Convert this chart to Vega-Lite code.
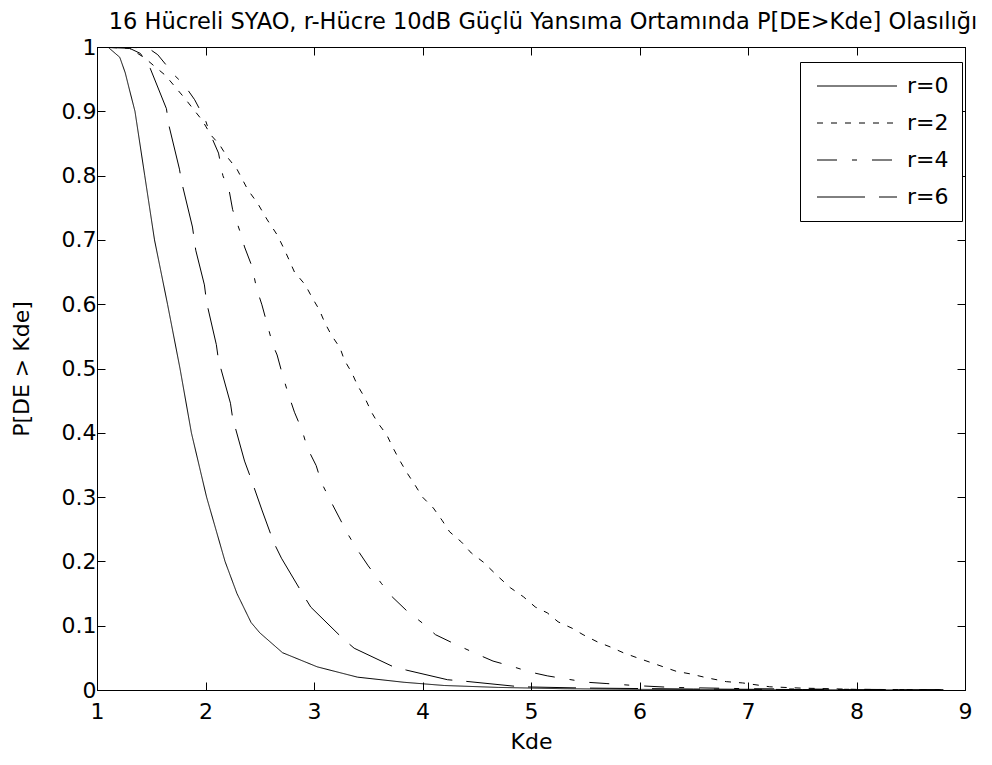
{
  "$schema": "https://vega.github.io/schema/vega-lite/v6.json",
  "width": 868,
  "height": 643,
  "autosize": "none",
  "padding": {"left": 97, "top": 47, "right": 27, "bottom": 75},
  "background": "white",
  "title": {"text": "16 Hücreli SYAO, r-Hücre 10dB Güçlü Yansıma Ortamında P[DE>Kde] Olasılığı", "fontSize": 22.5, "fontWeight": "normal", "font": "DejaVu Sans", "anchor": "middle", "offset": 3, "dx": 12, "color": "black"},
  "data": {"values": [
    {"k":1,"p":1,"r":"r=0"},{"k":1.1,"p":1.0,"r":"r=0"},{"k":1.21,"p":0.984,"r":"r=0"},{"k":1.26,"p":0.96,"r":"r=0"},{"k":1.3,"p":0.933,"r":"r=0"},{"k":1.35,"p":0.9,"r":"r=0"},{"k":1.44,"p":0.8,"r":"r=0"},{"k":1.53,"p":0.7,"r":"r=0"},{"k":1.65,"p":0.6,"r":"r=0"},{"k":1.765,"p":0.5,"r":"r=0"},{"k":1.87,"p":0.4,"r":"r=0"},{"k":2.01,"p":0.3,"r":"r=0"},{"k":2.18,"p":0.2,"r":"r=0"},{"k":2.29,"p":0.15,"r":"r=0"},{"k":2.42,"p":0.105,"r":"r=0"},{"k":2.5,"p":0.089,"r":"r=0"},{"k":2.71,"p":0.058,"r":"r=0"},{"k":3.03,"p":0.036,"r":"r=0"},{"k":3.4,"p":0.02,"r":"r=0"},{"k":3.83,"p":0.012,"r":"r=0"},{"k":4.2,"p":0.007,"r":"r=0"},{"k":4.7,"p":0.004,"r":"r=0"},{"k":5.3,"p":0.002,"r":"r=0"},{"k":6,"p":0.001,"r":"r=0"},{"k":7,"p":0.0005,"r":"r=0"},{"k":8,"p":0.0002,"r":"r=0"},{"k":8.8,"p":0.0001,"r":"r=0"},
    {"k":1,"p":1,"r":"r=2"},{"k":1.3,"p":0.998,"r":"r=2"},{"k":1.44,"p":0.983,"r":"r=2"},{"k":1.53,"p":0.97,"r":"r=2"},{"k":1.63,"p":0.956,"r":"r=2"},{"k":1.72,"p":0.938,"r":"r=2"},{"k":1.81,"p":0.92,"r":"r=2"},{"k":1.88,"p":0.905,"r":"r=2"},{"k":1.97,"p":0.886,"r":"r=2"},{"k":2.05,"p":0.863,"r":"r=2"},{"k":2.13,"p":0.848,"r":"r=2"},{"k":2.2,"p":0.829,"r":"r=2"},{"k":2.29,"p":0.81,"r":"r=2"},{"k":2.39,"p":0.778,"r":"r=2"},{"k":2.48,"p":0.757,"r":"r=2"},{"k":2.57,"p":0.731,"r":"r=2"},{"k":2.66,"p":0.708,"r":"r=2"},{"k":2.73,"p":0.684,"r":"r=2"},{"k":2.82,"p":0.65,"r":"r=2"},{"k":2.92,"p":0.63,"r":"r=2"},{"k":2.98,"p":0.611,"r":"r=2"},{"k":3.05,"p":0.591,"r":"r=2"},{"k":3.1,"p":0.571,"r":"r=2"},{"k":3.16,"p":0.552,"r":"r=2"},{"k":3.24,"p":0.532,"r":"r=2"},{"k":3.28,"p":0.513,"r":"r=2"},{"k":3.35,"p":0.493,"r":"r=2"},{"k":3.4,"p":0.474,"r":"r=2"},{"k":3.47,"p":0.454,"r":"r=2"},{"k":3.53,"p":0.432,"r":"r=2"},{"k":3.59,"p":0.415,"r":"r=2"},{"k":3.67,"p":0.397,"r":"r=2"},{"k":3.73,"p":0.376,"r":"r=2"},{"k":3.79,"p":0.357,"r":"r=2"},{"k":3.86,"p":0.337,"r":"r=2"},{"k":3.93,"p":0.319,"r":"r=2"},{"k":4.0,"p":0.3,"r":"r=2"},{"k":4.1,"p":0.283,"r":"r=2"},{"k":4.18,"p":0.264,"r":"r=2"},{"k":4.25,"p":0.246,"r":"r=2"},{"k":4.36,"p":0.23,"r":"r=2"},{"k":4.45,"p":0.213,"r":"r=2"},{"k":4.56,"p":0.199,"r":"r=2"},{"k":4.7,"p":0.176,"r":"r=2"},{"k":4.81,"p":0.159,"r":"r=2"},{"k":4.93,"p":0.145,"r":"r=2"},{"k":5.04,"p":0.129,"r":"r=2"},{"k":5.15,"p":0.12,"r":"r=2"},{"k":5.25,"p":0.106,"r":"r=2"},{"k":5.38,"p":0.096,"r":"r=2"},{"k":5.48,"p":0.086,"r":"r=2"},{"k":5.61,"p":0.075,"r":"r=2"},{"k":5.73,"p":0.067,"r":"r=2"},{"k":5.85,"p":0.058,"r":"r=2"},{"k":5.98,"p":0.05,"r":"r=2"},{"k":6.1,"p":0.043,"r":"r=2"},{"k":6.22,"p":0.036,"r":"r=2"},{"k":6.34,"p":0.029,"r":"r=2"},{"k":6.47,"p":0.025,"r":"r=2"},{"k":6.62,"p":0.019,"r":"r=2"},{"k":6.8,"p":0.013,"r":"r=2"},{"k":6.95,"p":0.011,"r":"r=2"},{"k":7.2,"p":0.005,"r":"r=2"},{"k":7.48,"p":0.003,"r":"r=2"},{"k":8.0,"p":0.001,"r":"r=2"},{"k":8.8,"p":0.0003,"r":"r=2"},
    {"k":1,"p":1,"r":"r=4"},{"k":1.4,"p":0.999,"r":"r=4"},{"k":1.5,"p":0.995,"r":"r=4"},{"k":1.56,"p":0.988,"r":"r=4"},{"k":1.72,"p":0.955,"r":"r=4"},{"k":1.8,"p":0.942,"r":"r=4"},{"k":1.9,"p":0.918,"r":"r=4"},{"k":2.0,"p":0.886,"r":"r=4"},{"k":2.04,"p":0.866,"r":"r=4"},{"k":2.12,"p":0.835,"r":"r=4"},{"k":2.16,"p":0.8,"r":"r=4"},{"k":2.22,"p":0.775,"r":"r=4"},{"k":2.25,"p":0.747,"r":"r=4"},{"k":2.32,"p":0.712,"r":"r=4"},{"k":2.36,"p":0.689,"r":"r=4"},{"k":2.43,"p":0.658,"r":"r=4"},{"k":2.47,"p":0.625,"r":"r=4"},{"k":2.52,"p":0.599,"r":"r=4"},{"k":2.57,"p":0.568,"r":"r=4"},{"k":2.62,"p":0.537,"r":"r=4"},{"k":2.66,"p":0.521,"r":"r=4"},{"k":2.71,"p":0.49,"r":"r=4"},{"k":2.76,"p":0.462,"r":"r=4"},{"k":2.82,"p":0.432,"r":"r=4"},{"k":2.89,"p":0.404,"r":"r=4"},{"k":2.94,"p":0.376,"r":"r=4"},{"k":3.02,"p":0.349,"r":"r=4"},{"k":3.07,"p":0.322,"r":"r=4"},{"k":3.15,"p":0.295,"r":"r=4"},{"k":3.23,"p":0.269,"r":"r=4"},{"k":3.31,"p":0.243,"r":"r=4"},{"k":3.4,"p":0.218,"r":"r=4"},{"k":3.5,"p":0.193,"r":"r=4"},{"k":3.62,"p":0.166,"r":"r=4"},{"k":3.72,"p":0.145,"r":"r=4"},{"k":3.85,"p":0.124,"r":"r=4"},{"k":4.0,"p":0.104,"r":"r=4"},{"k":4.12,"p":0.086,"r":"r=4"},{"k":4.28,"p":0.073,"r":"r=4"},{"k":4.5,"p":0.056,"r":"r=4"},{"k":4.65,"p":0.045,"r":"r=4"},{"k":4.82,"p":0.037,"r":"r=4"},{"k":4.99,"p":0.028,"r":"r=4"},{"k":5.15,"p":0.022,"r":"r=4"},{"k":5.33,"p":0.017,"r":"r=4"},{"k":5.52,"p":0.012,"r":"r=4"},{"k":5.7,"p":0.01,"r":"r=4"},{"k":5.95,"p":0.007,"r":"r=4"},{"k":6.3,"p":0.004,"r":"r=4"},{"k":7.0,"p":0.002,"r":"r=4"},{"k":8.0,"p":0.001,"r":"r=4"},{"k":8.8,"p":0.0003,"r":"r=4"},
    {"k":1,"p":1,"r":"r=6"},{"k":1.3,"p":0.998,"r":"r=6"},{"k":1.4,"p":0.99,"r":"r=6"},{"k":1.49,"p":0.967,"r":"r=6"},{"k":1.64,"p":0.904,"r":"r=6"},{"k":1.66,"p":0.88,"r":"r=6"},{"k":1.76,"p":0.81,"r":"r=6"},{"k":1.78,"p":0.79,"r":"r=6"},{"k":1.88,"p":0.72,"r":"r=6"},{"k":1.91,"p":0.684,"r":"r=6"},{"k":1.99,"p":0.63,"r":"r=6"},{"k":2.01,"p":0.603,"r":"r=6"},{"k":2.1,"p":0.537,"r":"r=6"},{"k":2.12,"p":0.513,"r":"r=6"},{"k":2.23,"p":0.446,"r":"r=6"},{"k":2.25,"p":0.423,"r":"r=6"},{"k":2.36,"p":0.356,"r":"r=6"},{"k":2.41,"p":0.333,"r":"r=6"},{"k":2.52,"p":0.28,"r":"r=6"},{"k":2.63,"p":0.229,"r":"r=6"},{"k":2.7,"p":0.205,"r":"r=6"},{"k":2.89,"p":0.151,"r":"r=6"},{"k":2.97,"p":0.129,"r":"r=6"},{"k":3.26,"p":0.081,"r":"r=6"},{"k":3.37,"p":0.065,"r":"r=6"},{"k":3.72,"p":0.037,"r":"r=6"},{"k":3.85,"p":0.031,"r":"r=6"},{"k":4.23,"p":0.016,"r":"r=6"},{"k":4.37,"p":0.014,"r":"r=6"},{"k":4.9,"p":0.005,"r":"r=6"},{"k":5.5,"p":0.003,"r":"r=6"},{"k":6.5,"p":0.0015,"r":"r=6"},{"k":7.5,"p":0.0007,"r":"r=6"},{"k":8.8,"p":0.0002,"r":"r=6"}
  ]},
  "layer": [
    {
      "mark": {"type": "line", "color": "black", "strokeWidth": 1, "clip": true},
      "encoding": {
        "x": {"field": "k", "type": "quantitative", "scale": {"domain": [1, 9], "nice": false, "zero": false},
              "axis": {"orient": "bottom", "title": "Kde", "values": [1,2,3,4,5,6,7,8,9], "labelFlush": false, "labelOverlap": false, "labelPadding": 19, "titlePadding": 9}},
        "y": {"field": "p", "type": "quantitative", "scale": {"domain": [0, 1], "nice": false},
              "axis": {"orient": "left", "title": "P[DE > Kde]", "values": [0,0.1,0.2,0.3,0.4,0.5,0.6,0.7,0.8,0.9,1], "format": "~g", "labelFlush": false, "labelOverlap": false, "labelPadding": 9, "titlePadding": 28}},
        "strokeDash": {"field": "r", "type": "nominal",
              "scale": {"domain": ["r=0","r=2","r=4","r=6"], "range": [[1,0],[6,8],[20,15,5,15],[48,14]]},
              "legend": {"title": null, "orient": "none", "legendX": 703, "legendY": 15, "symbolType": "M-0.7,0H7.3", "symbolSize": 400, "symbolStrokeColor": "black", "symbolStrokeWidth": 1, "labelFontSize": 22, "labelFont": "DejaVu Sans", "labelColor": "black", "labelOffset": 72, "strokeColor": "black", "fillColor": "white", "padding": 13, "rowPadding": 15}}
      }
    },
    {
      "mark": {"type": "point", "opacity": 0},
      "encoding": {
        "x": {"field": "k", "type": "quantitative", "axis": {"orient": "top", "title": null, "labels": false, "values": [1,2,3,4,5,6,7,8,9]}},
        "y": {"field": "p", "type": "quantitative", "axis": {"orient": "right", "title": null, "labels": false, "values": [0,0.1,0.2,0.3,0.4,0.5,0.6,0.7,0.8,0.9,1]}}
      }
    }
  ],
  "resolve": {"axis": {"x": "independent", "y": "independent"}},
  "config": {
    "font": "DejaVu Sans",
    "view": {"stroke": "black", "strokeWidth": 1},
    "axis": {"domainColor": "black", "domainWidth": 1, "tickColor": "black", "tickSize": -8, "labelColor": "black", "titleColor": "black", "labelFont": "DejaVu Sans", "titleFont": "DejaVu Sans", "labelFontSize": 22, "titleFontSize": 22, "titleFontWeight": "normal", "grid": false}
  }
}
